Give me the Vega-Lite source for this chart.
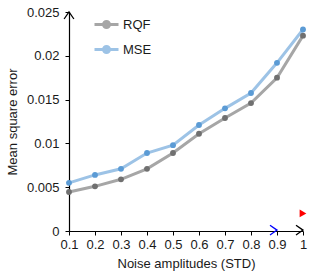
{
  "$schema": "https://vega.github.io/schema/vega-lite/v6.json",
  "width": 234,
  "height": 219,
  "autosize": {"type": "none"},
  "padding": {"left": 69, "top": 12, "right": 7, "bottom": 47},
  "background": "white",
  "config": {
    "view": {"stroke": null},
    "font": "Liberation Sans",
    "axis": {
      "grid": false,
      "labelFont": "Liberation Sans",
      "titleFont": "Liberation Sans",
      "labelFontSize": 13,
      "titleFontSize": 13,
      "titleFontWeight": "normal",
      "labelColor": "#1a1a1a",
      "titleColor": "#1a1a1a",
      "domainColor": "#000",
      "tickColor": "#000",
      "domainWidth": 1.2,
      "tickSize": 4
    },
    "legend": {
      "labelFont": "Liberation Sans",
      "labelFontSize": 13,
      "labelColor": "#1a1a1a"
    }
  },
  "data": {
    "values": [
      {"noise": 0.1, "series": "RQF", "err": 0.00445},
      {"noise": 0.2, "series": "RQF", "err": 0.0051},
      {"noise": 0.3, "series": "RQF", "err": 0.0059},
      {"noise": 0.4, "series": "RQF", "err": 0.0071},
      {"noise": 0.5, "series": "RQF", "err": 0.0089},
      {"noise": 0.6, "series": "RQF", "err": 0.0111},
      {"noise": 0.7, "series": "RQF", "err": 0.0129},
      {"noise": 0.8, "series": "RQF", "err": 0.0146},
      {"noise": 0.9, "series": "RQF", "err": 0.0175},
      {"noise": 1.0, "series": "RQF", "err": 0.0223},
      {"noise": 0.1, "series": "MSE", "err": 0.0055},
      {"noise": 0.2, "series": "MSE", "err": 0.0064},
      {"noise": 0.3, "series": "MSE", "err": 0.0071},
      {"noise": 0.4, "series": "MSE", "err": 0.0089},
      {"noise": 0.5, "series": "MSE", "err": 0.0098},
      {"noise": 0.6, "series": "MSE", "err": 0.0121},
      {"noise": 0.7, "series": "MSE", "err": 0.0140},
      {"noise": 0.8, "series": "MSE", "err": 0.01575},
      {"noise": 0.9, "series": "MSE", "err": 0.0192},
      {"noise": 1.0, "series": "MSE", "err": 0.0230}
    ]
  },
  "encoding": {
    "x": {
      "field": "noise",
      "type": "quantitative",
      "scale": {"domain": [0.1, 1], "nice": false, "zero": false},
      "axis": {
        "title": "Noise amplitudes (STD)",
        "values": [0.1, 0.2, 0.3, 0.4, 0.5, 0.6, 0.7, 0.8, 0.9, 1],
        "format": "~g",
        "labelPadding": 3,
        "titlePadding": 6,
        "labelFlush": false,
        "labelOverlap": false
      }
    },
    "y": {
      "field": "err",
      "type": "quantitative",
      "scale": {"domain": [0, 0.025], "nice": false},
      "axis": {
        "title": "Mean square error",
        "values": [0, 0.005, 0.01, 0.015, 0.02, 0.025],
        "format": "~g",
        "labelPadding": 6,
        "titlePadding": 7,
        "labelFlush": false
      }
    }
  },
  "layer": [
    {
      "mark": {"type": "line", "strokeWidth": 3},
      "encoding": {
        "stroke": {
          "field": "series",
          "type": "nominal",
          "scale": {"domain": ["RQF", "MSE"], "range": ["#a6a6a6", "#9dc3e6"]},
          "legend": {
            "title": null,
            "orient": "none",
            "legendX": 30,
            "legendY": 5,
            "padding": 0,
            "symbolType": "M-2,0H2M-0.5,0A0.5,0.5,0,1,0,0.5,0A0.5,0.5,0,1,0,-0.5,0Z",
            "symbolSize": 144,
            "symbolStrokeWidth": 3,
            "rowPadding": 6,
            "labelOffset": 9
          }
        }
      }
    },
    {
      "mark": {"type": "point", "filled": true, "size": 34, "opacity": 1},
      "encoding": {
        "fill": {
          "field": "series",
          "type": "nominal",
          "scale": {"domain": ["RQF", "MSE"], "range": ["#707070", "#5b9bd5"]},
          "legend": {
            "title": null,
            "orient": "none",
            "legendX": 30,
            "legendY": 5,
            "padding": 0,
            "symbolType": "M-2,0H2M-0.5,0A0.5,0.5,0,1,0,0.5,0A0.5,0.5,0,1,0,-0.5,0Z",
            "symbolSize": 144,
            "symbolStrokeWidth": 3,
            "rowPadding": 6,
            "labelOffset": 9
          }
        }
      }
    },
    {
      "transform": [{"filter": "datum.noise == 1 && datum.series == 'RQF'"}],
      "mark": {"type": "point", "shape": "triangle-right", "size": 60, "fill": "red", "filled": true, "opacity": 1},
      "encoding": {"y": {"datum": 0.002}}
    },
    {
      "transform": [{"filter": "datum.noise == 0.9 && datum.series == 'RQF'"}],
      "mark": {"type": "point", "shape": "M-1,-0.7L0,0L-1,0.7", "size": 196, "stroke": "blue", "strokeWidth": 1.3, "filled": false, "opacity": 1},
      "encoding": {"y": {"datum": 0.0001}}
    },
    {
      "transform": [{"filter": "datum.noise == 1 && datum.series == 'MSE'"}],
      "mark": {"type": "point", "shape": "M-1,-0.7L0,0L-1,0.7", "size": 196, "stroke": "#000", "strokeWidth": 1.3, "filled": false, "opacity": 1},
      "encoding": {"y": {"datum": 0.0001}}
    },
    {
      "transform": [{"filter": "datum.noise == 0.1 && datum.series == 'RQF'"}],
      "mark": {"type": "point", "shape": "M-0.7,1L0,0L0.7,1", "size": 196, "stroke": "#000", "strokeWidth": 1.3, "filled": false, "opacity": 1},
      "encoding": {"y": {"datum": 0.025}}
    }
  ]
}
